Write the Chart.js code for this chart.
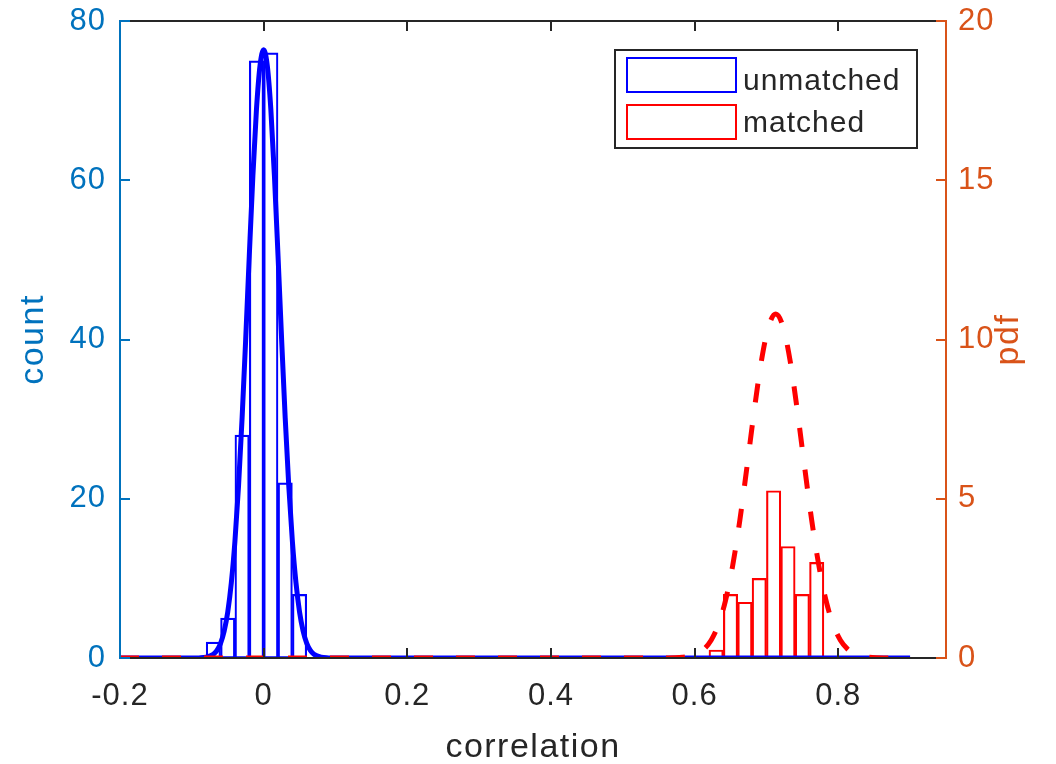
<!DOCTYPE html>
<html>
<head>
<meta charset="utf-8">
<script src="https://cdn.jsdelivr.net/npm/chart.js@4.4.1/dist/chart.umd.min.js"></script>
<style>
  html, body { margin: 0; padding: 0; background: #ffffff; }
  #wrap { width: 1056px; height: 764px; position: relative; }
  canvas { display: block; }
</style>
</head>
<body>
<div id="wrap"><canvas id="c" width="1056" height="764"></canvas></div>
<script>
// ---------- data ----------
const xTicks = [-0.2, 0, 0.2, 0.4, 0.6, 0.8];
const countTicks = [0, 20, 40, 60, 80];
const pdfTicks = [0, 5, 10, 15, 20];
const seriesNames = ['unmatched', 'matched'];
const axisTitles = ['correlation', 'count', 'pdf'];

// histogram bins (bin centres, width 0.02) and counts
const unmatchedBinCenters = [-0.07, -0.05, -0.03, -0.01, 0.01, 0.03, 0.05];
const unmatchedCounts     = [2, 5, 28, 75, 76, 22, 8];
const matchedBinCenters   = [0.63, 0.65, 0.67, 0.69, 0.71, 0.73, 0.75, 0.77];
const matchedCounts       = [1, 8, 7, 10, 21, 14, 8, 12];

// fitted pdf curves (right axis)
const unmatchedPdfX = [-0.2, -0.1, -0.09, -0.08, -0.07, -0.065, -0.06, -0.055, -0.05, -0.045, -0.04, -0.035, -0.03, -0.025, -0.02, -0.015, -0.01, -0.005, 0,
                       0.005, 0.01, 0.015, 0.02, 0.025, 0.03, 0.035, 0.04, 0.045, 0.05, 0.055, 0.06, 0.065, 0.07, 0.08, 0.09, 0.1, 0.9];
const unmatchedPdfY = [0, 0, 0.004, 0.026, 0.12, 0.24, 0.46, 0.84, 1.44, 2.36, 3.66, 5.39, 7.54, 10.01, 12.63, 15.14, 17.23, 18.61, 19.1,
                       18.61, 17.23, 15.14, 12.63, 10.01, 7.54, 5.39, 3.66, 2.36, 1.44, 0.84, 0.46, 0.24, 0.12, 0.026, 0.004, 0, 0];
const matchedPdfX = [-0.2, 0.5, 0.563, 0.573, 0.583, 0.593, 0.603, 0.613, 0.623, 0.633, 0.643, 0.653, 0.663, 0.673, 0.683, 0.693, 0.703, 0.713,
                     0.723, 0.733, 0.743, 0.753, 0.763, 0.773, 0.783, 0.793, 0.803, 0.813, 0.823, 0.833, 0.843, 0.853, 0.863, 0.9];
const matchedPdfY = [0, 0, 0.003, 0.008, 0.023, 0.056, 0.13, 0.28, 0.56, 1.04, 1.80, 2.90, 4.33, 6.02, 7.77, 9.33, 10.41, 10.8,
                     10.41, 9.33, 7.77, 6.02, 4.33, 2.90, 1.80, 1.04, 0.56, 0.28, 0.13, 0.056, 0.023, 0.008, 0.003, 0];

// ---------- style ----------
const FONT = "Arial, 'Liberation Sans', Helvetica, sans-serif";
const LEFT_COLOR = '#0072BD';
const RIGHT_COLOR = '#D95319';
const AXIS_DARK = '#262626';
const BLUE = '#0000FF';
const RED = '#FF0000';
const TICK_LEN = 10;

const zip = (xs, ys) => xs.map((x, i) => ({ x: x, y: ys[i] }));

const framePlugin = {
  id: 'frame',
  beforeDraw(chart) {
    chart.ctx.letterSpacing = '1px';
  },
  afterDraw(chart) {
    const { ctx, chartArea: a, scales } = chart;
    const seg = (x1, y1, x2, y2) => { ctx.beginPath(); ctx.moveTo(x1, y1); ctx.lineTo(x2, y2); ctx.stroke(); };
    ctx.save();
    ctx.lineWidth = 2;
    ctx.lineCap = 'butt';
    // top / bottom
    ctx.strokeStyle = AXIS_DARK;
    seg(a.left, a.top, a.right, a.top);
    seg(a.left, a.bottom, a.right, a.bottom);
    xTicks.forEach(v => {
      const px = Math.round(scales.x.getPixelForValue(v));
      seg(px, a.bottom, px, a.bottom - TICK_LEN);
      seg(px, a.top, px, a.top + TICK_LEN);
    });
    // left axis
    ctx.strokeStyle = LEFT_COLOR;
    seg(a.left, a.top - 1, a.left, a.bottom + 1);
    countTicks.forEach(v => {
      const py = Math.round(scales.y.getPixelForValue(v));
      seg(a.left, py, a.left + TICK_LEN, py);
    });
    // right axis
    ctx.strokeStyle = RIGHT_COLOR;
    seg(a.right, a.top - 1, a.right, a.bottom + 1);
    pdfTicks.forEach(v => {
      const py = Math.round(scales.y2.getPixelForValue(v));
      seg(a.right, py, a.right - TICK_LEN, py);
    });

    // axis titles
    ctx.letterSpacing = '1.5px';
    ctx.font = '34px ' + FONT;
    ctx.textAlign = 'center';
    ctx.textBaseline = 'middle';
    ctx.fillStyle = AXIS_DARK;
    ctx.fillText(axisTitles[0], (a.left + a.right) / 2, 748);
    ctx.save();
    ctx.translate(34, (a.top + a.bottom) / 2);
    ctx.rotate(-Math.PI / 2);
    ctx.fillStyle = LEFT_COLOR;
    ctx.fillText(axisTitles[1], 0, 0);
    ctx.restore();
    ctx.save();
    ctx.translate(1009, (a.top + a.bottom) / 2);
    ctx.rotate(-Math.PI / 2);
    ctx.fillStyle = RIGHT_COLOR;
    ctx.fillText(axisTitles[2], 0, 0);
    ctx.restore();

    // legend
    const lw = 302, lh = 98;
    const lx = a.right - 29 - lw, ly = a.top + 29;
    ctx.fillStyle = '#ffffff';
    ctx.fillRect(lx, ly, lw, lh);
    ctx.strokeStyle = AXIS_DARK;
    ctx.lineWidth = 2;
    ctx.strokeRect(lx, ly, lw, lh);
    const colors = [BLUE, RED];
    ctx.font = '30px ' + FONT;
    ctx.letterSpacing = '1px';
    ctx.textAlign = 'left';
    ctx.textBaseline = 'alphabetic';
    seriesNames.forEach((name, i) => {
      const ry = ly + 8 + i * 47;
      ctx.strokeStyle = colors[i];
      ctx.lineWidth = 2;
      ctx.strokeRect(lx + 12, ry, 109, 34);
      ctx.fillStyle = AXIS_DARK;
      ctx.fillText(name, lx + 128, ly + 40 + i * 42);
    });
    ctx.restore();
  }
};

const tickFont = { family: FONT, size: 31 };

new Chart(document.getElementById('c'), {
  type: 'bar',
  data: {
    datasets: [
      {
        type: 'line', label: seriesNames[1] + ' pdf', yAxisID: 'y2', xAxisID: 'x',
        data: zip(matchedPdfX, matchedPdfY),
        borderColor: RED, borderWidth: 5, borderDash: [19, 23], borderCapStyle: 'butt',
        pointRadius: 0, fill: false, cubicInterpolationMode: 'monotone',
        clip: { left: 0, top: 10, right: 0, bottom: 0 }, order: 0
      },
      {
        type: 'line', label: seriesNames[0] + ' pdf', yAxisID: 'y2', xAxisID: 'x',
        data: zip(unmatchedPdfX, unmatchedPdfY),
        borderColor: BLUE, borderWidth: 5,
        pointRadius: 0, fill: false, cubicInterpolationMode: 'monotone',
        clip: { left: 0, top: 10, right: 0, bottom: 0 }, order: 1
      },
      {
        type: 'bar', label: seriesNames[1], yAxisID: 'y', xAxisID: 'x',
        data: zip(matchedBinCenters, matchedCounts),
        backgroundColor: 'rgba(0,0,0,0)', borderColor: RED, borderWidth: 1.5, borderSkipped: false,
        grouped: false, barPercentage: 1, categoryPercentage: 1, order: 2
      },
      {
        type: 'bar', label: seriesNames[0], yAxisID: 'y', xAxisID: 'x',
        data: zip(unmatchedBinCenters, unmatchedCounts),
        backgroundColor: 'rgba(0,0,0,0)', borderColor: BLUE, borderWidth: 1.5, borderSkipped: false,
        grouped: false, barPercentage: 1, categoryPercentage: 1, order: 3
      }
    ]
  },
  options: {
    responsive: false,
    animation: false,
    devicePixelRatio: 1,
    layout: { padding: { top: 21, left: 0, right: 0, bottom: 0 } },
    plugins: { legend: { display: false }, tooltip: { enabled: false } },
    scales: {
      x: {
        type: 'linear', position: 'bottom', min: -0.2, max: 0.95, offset: false,
        grid: { display: false, drawTicks: false, offset: false }, border: { display: false },
        afterBuildTicks: s => { s.ticks = xTicks.map(v => ({ value: v })); },
        afterFit: s => { s.height = 106; s.paddingLeft = 0; s.paddingRight = 0; },
        ticks: { padding: 20, color: AXIS_DARK, font: tickFont, maxRotation: 0, autoSkip: false,
                 callback: v => String(v) }
      },
      y: {
        type: 'linear', position: 'left', min: 0, max: 80,
        grid: { display: false, drawTicks: false }, border: { display: false },
        afterBuildTicks: s => { s.ticks = countTicks.map(v => ({ value: v })); },
        afterFit: s => { s.width = 120; s.paddingTop = 0; s.paddingBottom = 0; },
        ticks: { padding: 14, color: LEFT_COLOR, font: tickFont, autoSkip: false, callback: v => String(v) }
      },
      y2: {
        type: 'linear', position: 'right', min: 0, max: 20,
        grid: { display: false, drawTicks: false }, border: { display: false },
        afterBuildTicks: s => { s.ticks = pdfTicks.map(v => ({ value: v })); },
        afterFit: s => { s.width = 110; s.paddingTop = 0; s.paddingBottom = 0; },
        ticks: { padding: 12, color: RIGHT_COLOR, font: tickFont, autoSkip: false, callback: v => String(v) }
      }
    }
  },
  plugins: [framePlugin]
});
</script>
</body>
</html>
